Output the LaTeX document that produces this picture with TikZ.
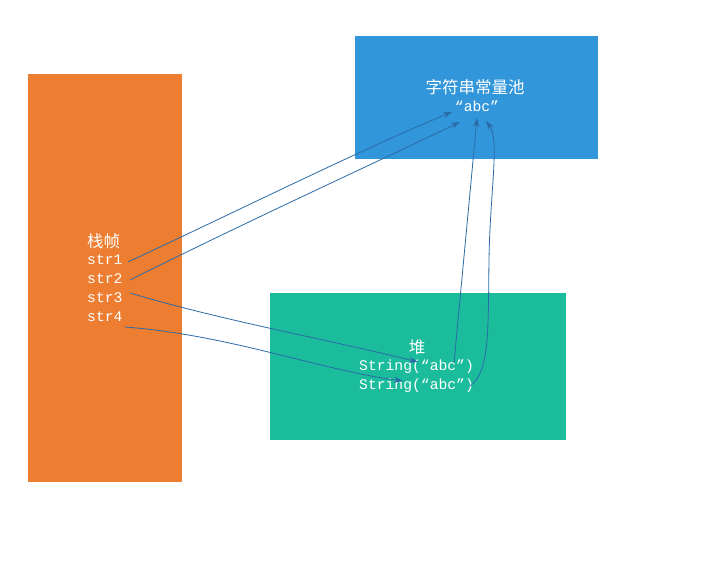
\documentclass[tikz,border=0pt]{standalone}
\usepackage{fontspec}
\usetikzlibrary{arrows.meta}
\newfontfamily\cjkfont{Noto Sans CJK SC}
\newfontfamily\monofont{Liberation Mono}
\definecolor{stackc}{HTML}{ED7D31}
\definecolor{poolc}{HTML}{3296DB}
\definecolor{heapc}{HTML}{1ABC9C}
\definecolor{arrc}{HTML}{2C6AA6}
\tikzset{
  region/.style={draw=none},
  cjk/.style={text=white,font=\cjkfont\fontsize{16.5}{18}\selectfont,inner sep=0pt},
  code/.style={text=white,font=\monofont\fontsize{14.7}{16}\selectfont,inner sep=0pt},
  ref/.style={draw=arrc,line width=0.8pt,-{Stealth[length=9pt,width=6pt]}},
}
\begin{document}
\begin{tikzpicture}[x=1pt,y=-1pt]
\useasboundingbox (0,0) rectangle (727,562);
\fill[white] (0,0) rectangle (727,562);
\fill[stackc] (28,74) rectangle (182,482);
\fill[poolc] (355,36) rectangle (598,159);
\fill[heapc] (270,293) rectangle (566,440);

\node[cjk,anchor=west] (frame) at (87,241) {栈帧};
\node[code,anchor=west] (s1) at (87,260) {str1};
\node[code,anchor=west] (s2) at (87,279) {str2};
\node[code,anchor=west] (s3) at (87,298) {str3};
\node[code,anchor=west] (s4) at (87,317) {str4};

\node[cjk] (pool) at (475,87) {字符串常量池};
\node[code] (abc) at (477,106) {“abc”};

\node[cjk] (heap) at (417,347) {堆};
\node[code,anchor=west] (h1) at (359,367) {String(“abc”)};
\node[code,anchor=west] (h2) at (359,386) {String(“abc”)};

\coordinate (t1) at (452,112);
\coordinate (t2) at (460,122);
\coordinate (t3) at (477,118);
\coordinate (t4) at (486,121);
\coordinate (hh1) at (418,362);
\coordinate (hh2) at (403,381);
\coordinate (o1) at (128,262);
\coordinate (o2) at (130,280);
\coordinate (o3) at (130,293);
\coordinate (o4) at (125,327);
\coordinate (e1) at (454,363);
\coordinate (e2) at (470,386);

\draw[ref] (o1) .. controls (250,205) and (360,150) .. (t1);
\draw[ref] (o2) .. controls (250,220) and (360,170) .. (t2);
\draw[ref] (o3) .. controls (220,320) and (330,340) .. (hh1);
\draw[ref] (o4) .. controls (230,335) and (320,370) .. (hh2);
\draw[ref] (e1) -- (t3);
\draw[ref] (e2) .. controls (490,372) and (488,330) .. (489,260) .. controls (490,190) and (500,140) .. (t4);
\end{tikzpicture}
\end{document}
